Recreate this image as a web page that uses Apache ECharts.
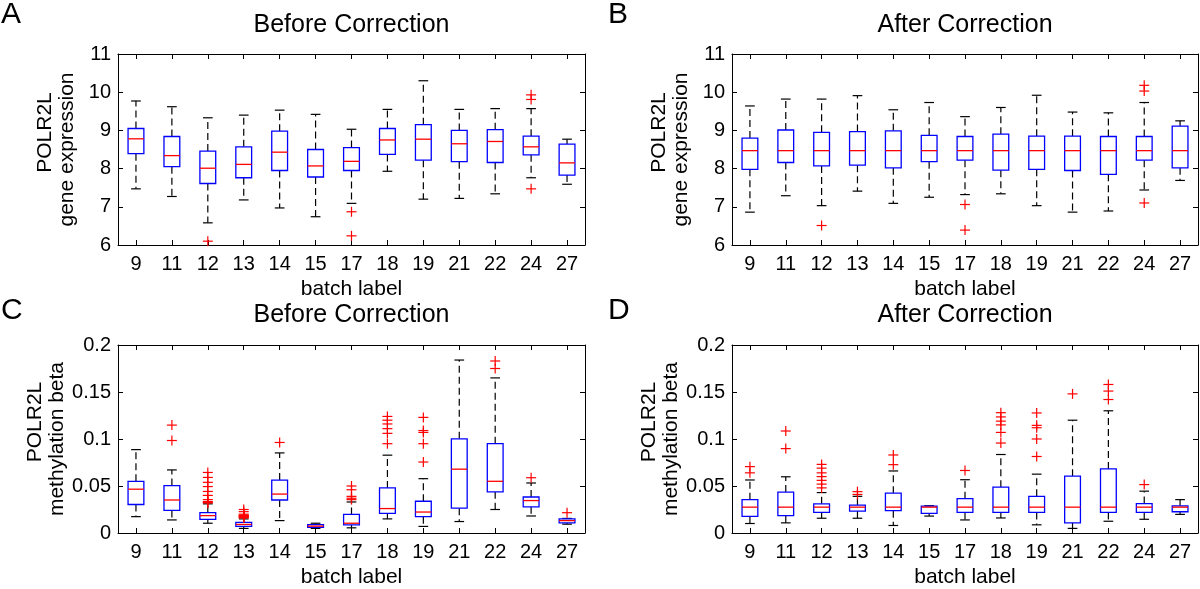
<!DOCTYPE html>
<html>
<head>
<meta charset="utf-8">
<script src="https://cdn.jsdelivr.net/npm/echarts@6/dist/echarts.min.js"></script>
<style>
html,body{margin:0;padding:0;background:#fff;}
#chart{width:1200px;height:589px;}
</style>
</head>
<body>
<div id="chart"></div>
<script>
// ---------------- data ----------------
const batches = ['9','11','12','13','14','15','17','18','19','21','22','24','27'];

// each row: [lower whisker, Q1, median, Q3, upper whisker]
const exprBefore = [
  [7.47, 8.39, 8.78, 9.05, 9.77],
  [7.27, 8.05, 8.34, 8.84, 9.62],
  [6.58, 7.61, 8.01, 8.46, 9.33],
  [7.18, 7.76, 8.11, 8.57, 9.40],
  [6.97, 7.95, 8.43, 8.98, 9.53],
  [6.74, 7.78, 8.07, 8.50, 9.42],
  [7.09, 7.95, 8.19, 8.55, 9.03],
  [7.93, 8.37, 8.75, 9.05, 9.55],
  [7.20, 8.22, 8.77, 9.15, 10.30],
  [7.22, 8.18, 8.65, 9.00, 9.55],
  [7.34, 8.16, 8.71, 9.02, 9.57],
  [7.76, 8.36, 8.57, 8.85, 9.57],
  [7.59, 7.83, 8.15, 8.64, 8.77]
];
const exprBeforeOut = [['12',6.10],['17',6.87],['17',6.24],['24',9.93],['24',9.81],['24',7.47]];

const exprAfter = [
  [6.86, 7.98, 8.47, 8.80, 9.64],
  [7.29, 8.16, 8.47, 9.01, 9.82],
  [7.03, 8.07, 8.47, 8.95, 9.82],
  [7.41, 8.09, 8.47, 8.97, 9.91],
  [7.09, 8.02, 8.47, 8.99, 9.54],
  [7.25, 8.18, 8.47, 8.87, 9.73],
  [7.32, 8.22, 8.47, 8.84, 9.36],
  [7.34, 7.96, 8.47, 8.90, 9.60],
  [7.03, 7.98, 8.47, 8.85, 9.92],
  [6.86, 7.95, 8.47, 8.85, 9.48],
  [6.89, 7.85, 8.47, 8.84, 9.46],
  [7.44, 8.22, 8.47, 8.84, 9.73],
  [7.69, 8.02, 8.47, 9.11, 9.25]
];
const exprAfterOut = [['12',6.51],['17',7.06],['17',6.39],['24',10.18],['24',10.03],['24',7.10]];

const methBefore = [
  [0.0174, 0.0303, 0.0466, 0.0550, 0.0887],
  [0.0139, 0.0240, 0.0351, 0.0504, 0.0671],
  [0.0104, 0.0146, 0.0185, 0.0216, 0.0310],
  [0.0049, 0.0070, 0.0091, 0.0112, 0.0150],
  [0.0132, 0.0351, 0.0414, 0.0563, 0.0852],
  [0.0049, 0.0059, 0.0073, 0.0090, 0.0104],
  [0.0055, 0.0087, 0.0104, 0.0198, 0.0330],
  [0.0150, 0.0209, 0.0260, 0.0480, 0.0828],
  [0.0070, 0.0174, 0.0223, 0.0338, 0.0578],
  [0.0122, 0.0264, 0.0679, 0.1002, 0.1840],
  [0.0250, 0.0438, 0.0550, 0.0950, 0.1650],
  [0.0181, 0.0278, 0.0345, 0.0383, 0.0532],
  [0.0094, 0.0108, 0.0132, 0.0150, 0.0155]
];
const methBeforeOut = [
  ['11',0.1148],['11',0.0984],
  ['12',0.0644],['12',0.0591],['12',0.0539],['12',0.0494],['12',0.0442],['12',0.0400],['12',0.0355],['12',0.0334],['12',0.0325],['12',0.0320],
  ['13',0.0250],['13',0.0227],['13',0.0200],['13',0.0190],['13',0.0185],['13',0.0180],['13',0.0175],['13',0.0170],['13',0.0165],['13',0.0160],
  ['14',0.0963],
  ['17',0.0500],['17',0.0460],['17',0.0390],['17',0.0370],['17',0.0355],
  ['18',0.1240],['18',0.1200],['18',0.1160],['18',0.1110],['18',0.1060],['18',0.0950],
  ['19',0.1230],['19',0.1090],['19',0.1070],['19',0.0950],['19',0.0755],
  ['22',0.1830],['22',0.1750],
  ['24',0.0588],
  ['27',0.0216]
];

const methAfter = [
  [0.0101, 0.0177, 0.0275, 0.0355, 0.0564],
  [0.0108, 0.0184, 0.0275, 0.0435, 0.0598],
  [0.0157, 0.0219, 0.0275, 0.0310, 0.0430],
  [0.0157, 0.0233, 0.0275, 0.0296, 0.0390],
  [0.0080, 0.0237, 0.0275, 0.0424, 0.0660],
  [0.0180, 0.0209, 0.0275, 0.0285, 0.0290],
  [0.0139, 0.0219, 0.0275, 0.0365, 0.0567],
  [0.0160, 0.0219, 0.0275, 0.0487, 0.0835],
  [0.0087, 0.0219, 0.0275, 0.0390, 0.0626],
  [0.0049, 0.0108, 0.0275, 0.0605, 0.1200],
  [0.0125, 0.0219, 0.0275, 0.0682, 0.1300],
  [0.0146, 0.0219, 0.0275, 0.0313, 0.0445],
  [0.0198, 0.0226, 0.0275, 0.0289, 0.0355]
];
const methAfterOut = [
  ['9',0.0706],['9',0.0640],
  ['11',0.1085],['11',0.0898],
  ['12',0.0730],['12',0.0690],['12',0.0640],['12',0.0600],['12',0.0560],['12',0.0520],['12',0.0480],
  ['13',0.0440],['13',0.0410],
  ['14',0.0830],['14',0.0727],
  ['17',0.0665],
  ['18',0.1280],['18',0.1235],['18',0.1190],['18',0.1150],['18',0.1070],['18',0.0957],
  ['19',0.1277],['19',0.1145],['19',0.1120],['19',0.1000],['19',0.0814],
  ['21',0.1480],
  ['22',0.1580],['22',0.1510],['22',0.1420],
  ['24',0.0515]
];

const panelTitles = ['Before Correction','After Correction','Before Correction','After Correction'];
const panelLetters = ['A','B','C','D'];
const yGene = 'POLR2L';
const yMeasures = ['gene expression','gene expression','methylation beta','methylation beta'];
const xName = 'batch label';

// ---------------- chart ----------------
const FONT = '"Liberation Sans", Arial, Helvetica, sans-serif';
const BLUE = '#0000ff', RED = '#ff0000', BLACK = '#000000';

const grids = [
  {left:118, top:54,  width:467, height:191},
  {left:732, top:54,  width:466, height:191},
  {left:118, top:345, width:467, height:192},
  {left:732, top:345, width:466, height:192}
];
const yRanges = [
  {min:6, max:11, interval:1},
  {min:6, max:11, interval:1},
  {min:0, max:0.2, interval:0.05},
  {min:0, max:0.2, interval:0.05}
];
const boxSets = [exprBefore, exprAfter, methBefore, methAfter];
const outSets = [exprBeforeOut, exprAfterOut, methBeforeOut, methAfterOut];

const xAxes = [], yAxes = [], series = [], titles = [];

function renderBox(params, api) {
  const i = api.value(0);
  const pLW = api.coord([i, api.value(1)]);
  const pQ1 = api.coord([i, api.value(2)]);
  const pMed = api.coord([i, api.value(3)]);
  const pQ3 = api.coord([i, api.value(4)]);
  const pUW = api.coord([i, api.value(5)]);
  const band = api.size([1, 0])[0];
  const cx = pQ1[0];
  const bw = band * 0.44, cw = band * 0.27;
  const whisk = {stroke: BLACK, lineWidth: 1.2, lineDash: [7, 4]};
  const solid = {stroke: BLACK, lineWidth: 1.2};
  return {
    type: 'group',
    children: [
      {type:'line', shape:{x1:cx, y1:pQ3[1], x2:cx, y2:pUW[1]}, style: whisk},
      {type:'line', shape:{x1:cx, y1:pQ1[1], x2:cx, y2:pLW[1]}, style: whisk},
      {type:'line', shape:{x1:cx-cw/2, y1:pUW[1], x2:cx+cw/2, y2:pUW[1]}, style: solid},
      {type:'line', shape:{x1:cx-cw/2, y1:pLW[1], x2:cx+cw/2, y2:pLW[1]}, style: solid},
      {type:'rect', shape:{x:cx-bw/2, y:pQ3[1], width:bw, height:pQ1[1]-pQ3[1]},
        style:{stroke: BLUE, fill: '#ffffff', lineWidth: 1.3}},
      {type:'line', shape:{x1:cx-bw/2, y1:pMed[1], x2:cx+bw/2, y2:pMed[1]},
        style:{stroke: RED, lineWidth: 1.3}}
    ]
  };
}

function renderPlus(params, api) {
  const p = api.coord([api.value(0), api.value(1)]);
  const h = 5;
  const st = {stroke: RED, lineWidth: 1.2};
  return {
    type: 'group',
    children: [
      {type:'line', shape:{x1:p[0]-h, y1:p[1], x2:p[0]+h, y2:p[1]}, style: st},
      {type:'line', shape:{x1:p[0], y1:p[1]-h, x2:p[0], y2:p[1]+h}, style: st}
    ]
  };
}

for (let g = 0; g < 4; g++) {
  const axisLine = {show: true, onZero: false, lineStyle: {color: BLACK, width: 1}};
  const tick = {show: true, inside: true, length: 5, lineStyle: {color: BLACK}};
  // bottom x
  xAxes.push({
    type:'category', gridIndex:g, data: batches, position:'bottom',
    boundaryGap: true,
    axisLine, axisTick: Object.assign({alignWithLabel: true}, tick),
    axisLabel: {color: BLACK, fontSize: 20, fontFamily: FONT, margin: 9, interval: 0},
    name: xName, nameLocation: 'middle', nameGap: 34,
    nameTextStyle: {color: BLACK, fontSize: 21, fontFamily: FONT},
    splitLine: {show: false}
  });
  // top x (ticks only)
  xAxes.push({
    type:'category', gridIndex:g, data: batches, position:'top',
    boundaryGap: true,
    axisLine, axisTick: Object.assign({alignWithLabel: true}, tick),
    axisLabel: {show: false}, splitLine: {show: false}
  });
  // left y
  yAxes.push(Object.assign({
    type:'value', gridIndex:g, position:'left',
    axisLine, axisTick: tick,
    axisLabel: {color: BLACK, fontSize: 20, fontFamily: FONT, margin: 7},
    name: '{a|' + yGene + '}\n{b|' + yMeasures[g] + '}',
    nameLocation: 'middle', nameGap: 40, nameRotate: 90,
    nameTextStyle: {
      color: BLACK, fontSize: 21, fontFamily: FONT, lineHeight: 22,
      rich: {
        a: {color: BLACK, fontSize: 21, fontFamily: FONT, lineHeight: 22, padding: [0, 0, 0, 34]},
        b: {color: BLACK, fontSize: 21, fontFamily: FONT, lineHeight: 22}
      }
    },
    splitLine: {show: false}
  }, yRanges[g]));
  // right y (ticks only)
  yAxes.push(Object.assign({
    type:'value', gridIndex:g, position:'right',
    axisLine, axisTick: tick,
    axisLabel: {show: false}, splitLine: {show: false}
  }, yRanges[g]));

  const boxData = boxSets[g].map((r, i) => [i].concat(r));
  series.push({
    type: 'custom', xAxisIndex: g*2, yAxisIndex: g*2,
    renderItem: renderBox,
    encode: {x: 0, y: [1,2,3,4,5]},
    data: boxData, silent: true, animation: false
  });
  const outData = outSets[g].map(o => [batches.indexOf(o[0]), o[1]]);
  series.push({
    type: 'custom', xAxisIndex: g*2, yAxisIndex: g*2,
    renderItem: renderPlus,
    encode: {x: 0, y: 1},
    data: outData, silent: true, animation: false
  });

  const gr = grids[g];
  titles.push({
    text: panelTitles[g], left: gr.left + gr.width/2, textAlign: 'center',
    top: g < 2 ? 13 : 303, padding: 0,
    textStyle: {color: BLACK, fontSize: 25, fontWeight: 'normal', fontFamily: FONT}
  });
  titles.push({
    text: panelLetters[g], left: g % 2 === 0 ? 1 : 608, top: g < 2 ? 0 : 296, padding: 0,
    textStyle: {color: BLACK, fontSize: 30, fontWeight: 'normal', fontFamily: FONT}
  });
}

const chart = echarts.init(document.getElementById('chart'), null, {renderer: 'canvas'});
chart.setOption({
  animation: false,
  backgroundColor: '#ffffff',
  title: titles,
  grid: grids,
  xAxis: xAxes,
  yAxis: yAxes,
  series: series
});
</script>
</body>
</html>
